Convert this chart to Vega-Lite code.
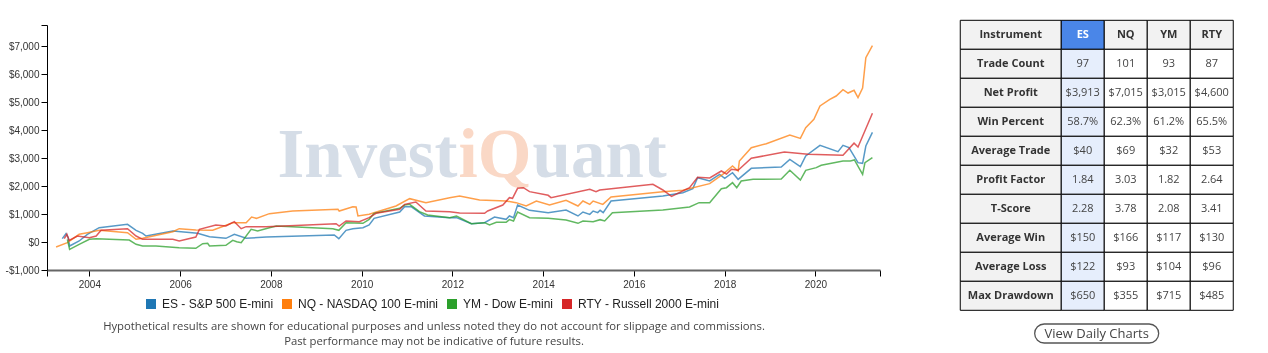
{
  "$schema": "https://vega.github.io/schema/vega-lite/v6.json",
  "background": "white",
  "padding": {"left": 5, "top": 19, "right": 0, "bottom": 0},
  "config": {"view": {"stroke": null}, "font": "Liberation Sans", "axis": {"labelOverlap": false}},
  "datasets": {
    "equity": [
      {"instrument":"ES - S&P 500 E-mini","date":"2003-05-28","profit":119},
      {"instrument":"ES - S&P 500 E-mini","date":"2003-06-27","profit":298},
      {"instrument":"ES - S&P 500 E-mini","date":"2003-07-15","profit":155},
      {"instrument":"ES - S&P 500 E-mini","date":"2003-07-26","profit":-143},
      {"instrument":"ES - S&P 500 E-mini","date":"2003-10-11","profit":36},
      {"instrument":"ES - S&P 500 E-mini","date":"2003-12-16","profit":274},
      {"instrument":"ES - S&P 500 E-mini","date":"2004-03-20","profit":512},
      {"instrument":"ES - S&P 500 E-mini","date":"2004-11-03","profit":631},
      {"instrument":"ES - S&P 500 E-mini","date":"2005-01-11","profit":417},
      {"instrument":"ES - S&P 500 E-mini","date":"2005-03-05","profit":310},
      {"instrument":"ES - S&P 500 E-mini","date":"2005-04-01","profit":214},
      {"instrument":"ES - S&P 500 E-mini","date":"2005-11-03","profit":393},
      {"instrument":"ES - S&P 500 E-mini","date":"2006-05-21","profit":310},
      {"instrument":"ES - S&P 500 E-mini","date":"2006-08-25","profit":190},
      {"instrument":"ES - S&P 500 E-mini","date":"2007-01-04","profit":131},
      {"instrument":"ES - S&P 500 E-mini","date":"2007-03-13","profit":274},
      {"instrument":"ES - S&P 500 E-mini","date":"2007-06-16","profit":131},
      {"instrument":"ES - S&P 500 E-mini","date":"2007-11-25","profit":179},
      {"instrument":"ES - S&P 500 E-mini","date":"2009-05-25","profit":250},
      {"instrument":"ES - S&P 500 E-mini","date":"2009-07-01","profit":119},
      {"instrument":"ES - S&P 500 E-mini","date":"2009-08-28","profit":417},
      {"instrument":"ES - S&P 500 E-mini","date":"2009-10-22","profit":476},
      {"instrument":"ES - S&P 500 E-mini","date":"2010-01-11","profit":512},
      {"instrument":"ES - S&P 500 E-mini","date":"2010-03-02","profit":607},
      {"instrument":"ES - S&P 500 E-mini","date":"2010-04-11","profit":845},
      {"instrument":"ES - S&P 500 E-mini","date":"2010-11-03","profit":1071},
      {"instrument":"ES - S&P 500 E-mini","date":"2010-12-13","profit":1262},
      {"instrument":"ES - S&P 500 E-mini","date":"2011-02-03","profit":1262},
      {"instrument":"ES - S&P 500 E-mini","date":"2011-05-21","profit":929},
      {"instrument":"ES - S&P 500 E-mini","date":"2011-12-10","profit":869},
      {"instrument":"ES - S&P 500 E-mini","date":"2012-02-03","profit":869},
      {"instrument":"ES - S&P 500 E-mini","date":"2012-06-02","profit":655},
      {"instrument":"ES - S&P 500 E-mini","date":"2012-09-16","profit":690},
      {"instrument":"ES - S&P 500 E-mini","date":"2012-12-05","profit":893},
      {"instrument":"ES - S&P 500 E-mini","date":"2013-03-09","profit":810},
      {"instrument":"ES - S&P 500 E-mini","date":"2013-04-04","profit":929},
      {"instrument":"ES - S&P 500 E-mini","date":"2013-05-07","profit":869},
      {"instrument":"ES - S&P 500 E-mini","date":"2013-06-09","profit":1321},
      {"instrument":"ES - S&P 500 E-mini","date":"2013-09-13","profit":1131},
      {"instrument":"ES - S&P 500 E-mini","date":"2014-02-10","profit":1048},
      {"instrument":"ES - S&P 500 E-mini","date":"2014-07-04","profit":1143},
      {"instrument":"ES - S&P 500 E-mini","date":"2014-10-08","profit":929},
      {"instrument":"ES - S&P 500 E-mini","date":"2014-11-17","profit":1071},
      {"instrument":"ES - S&P 500 E-mini","date":"2015-01-11","profit":988},
      {"instrument":"ES - S&P 500 E-mini","date":"2015-02-07","profit":1107},
      {"instrument":"ES - S&P 500 E-mini","date":"2015-03-16","profit":1048},
      {"instrument":"ES - S&P 500 E-mini","date":"2015-04-04","profit":1131},
      {"instrument":"ES - S&P 500 E-mini","date":"2015-04-29","profit":1048},
      {"instrument":"ES - S&P 500 E-mini","date":"2015-07-01","profit":1464},
      {"instrument":"ES - S&P 500 E-mini","date":"2016-08-21","profit":1643},
      {"instrument":"ES - S&P 500 E-mini","date":"2017-01-29","profit":1762},
      {"instrument":"ES - S&P 500 E-mini","date":"2017-04-19","profit":1905},
      {"instrument":"ES - S&P 500 E-mini","date":"2017-05-28","profit":2298},
      {"instrument":"ES - S&P 500 E-mini","date":"2017-09-02","profit":2179},
      {"instrument":"ES - S&P 500 E-mini","date":"2017-11-21","profit":2417},
      {"instrument":"ES - S&P 500 E-mini","date":"2018-01-01","profit":2274},
      {"instrument":"ES - S&P 500 E-mini","date":"2018-03-05","profit":2476},
      {"instrument":"ES - S&P 500 E-mini","date":"2018-04-19","profit":2238},
      {"instrument":"ES - S&P 500 E-mini","date":"2018-08-03","profit":2631},
      {"instrument":"ES - S&P 500 E-mini","date":"2019-04-01","profit":2679},
      {"instrument":"ES - S&P 500 E-mini","date":"2019-06-09","profit":2952},
      {"instrument":"ES - S&P 500 E-mini","date":"2019-09-02","profit":2690},
      {"instrument":"ES - S&P 500 E-mini","date":"2019-10-15","profit":3071},
      {"instrument":"ES - S&P 500 E-mini","date":"2020-02-07","profit":3452},
      {"instrument":"ES - S&P 500 E-mini","date":"2020-07-01","profit":3226},
      {"instrument":"ES - S&P 500 E-mini","date":"2020-08-10","profit":3452},
      {"instrument":"ES - S&P 500 E-mini","date":"2020-09-27","profit":3369},
      {"instrument":"ES - S&P 500 E-mini","date":"2020-12-09","profit":2833},
      {"instrument":"ES - S&P 500 E-mini","date":"2021-01-15","profit":2810},
      {"instrument":"ES - S&P 500 E-mini","date":"2021-02-10","profit":3429},
      {"instrument":"ES - S&P 500 E-mini","date":"2021-04-04","profit":3913},

      {"instrument":"NQ - NASDAQ 100 E-mini","date":"2003-04-08","profit":-178},
      {"instrument":"NQ - NASDAQ 100 E-mini","date":"2003-07-08","profit":-24},
      {"instrument":"NQ - NASDAQ 100 E-mini","date":"2003-10-11","profit":274},
      {"instrument":"NQ - NASDAQ 100 E-mini","date":"2003-12-16","profit":333},
      {"instrument":"NQ - NASDAQ 100 E-mini","date":"2004-03-20","profit":417},
      {"instrument":"NQ - NASDAQ 100 E-mini","date":"2004-11-03","profit":333},
      {"instrument":"NQ - NASDAQ 100 E-mini","date":"2005-01-11","profit":96},
      {"instrument":"NQ - NASDAQ 100 E-mini","date":"2005-03-05","profit":131},
      {"instrument":"NQ - NASDAQ 100 E-mini","date":"2005-11-03","profit":369},
      {"instrument":"NQ - NASDAQ 100 E-mini","date":"2005-12-24","profit":476},
      {"instrument":"NQ - NASDAQ 100 E-mini","date":"2006-05-07","profit":429},
      {"instrument":"NQ - NASDAQ 100 E-mini","date":"2006-09-20","profit":417},
      {"instrument":"NQ - NASDAQ 100 E-mini","date":"2007-02-28","profit":690},
      {"instrument":"NQ - NASDAQ 100 E-mini","date":"2007-06-16","profit":690},
      {"instrument":"NQ - NASDAQ 100 E-mini","date":"2007-07-30","profit":893},
      {"instrument":"NQ - NASDAQ 100 E-mini","date":"2007-09-06","profit":845},
      {"instrument":"NQ - NASDAQ 100 E-mini","date":"2007-12-20","profit":1012},
      {"instrument":"NQ - NASDAQ 100 E-mini","date":"2008-06-24","profit":1107},
      {"instrument":"NQ - NASDAQ 100 E-mini","date":"2009-06-24","profit":1167},
      {"instrument":"NQ - NASDAQ 100 E-mini","date":"2009-07-04","profit":1107},
      {"instrument":"NQ - NASDAQ 100 E-mini","date":"2009-10-22","profit":1262},
      {"instrument":"NQ - NASDAQ 100 E-mini","date":"2009-11-17","profit":1250},
      {"instrument":"NQ - NASDAQ 100 E-mini","date":"2009-12-02","profit":929},
      {"instrument":"NQ - NASDAQ 100 E-mini","date":"2010-03-02","profit":988},
      {"instrument":"NQ - NASDAQ 100 E-mini","date":"2010-10-04","profit":1286},
      {"instrument":"NQ - NASDAQ 100 E-mini","date":"2011-01-22","profit":1548},
      {"instrument":"NQ - NASDAQ 100 E-mini","date":"2011-06-02","profit":1405},
      {"instrument":"NQ - NASDAQ 100 E-mini","date":"2011-12-10","profit":1583},
      {"instrument":"NQ - NASDAQ 100 E-mini","date":"2012-02-28","profit":1643},
      {"instrument":"NQ - NASDAQ 100 E-mini","date":"2012-08-07","profit":1500},
      {"instrument":"NQ - NASDAQ 100 E-mini","date":"2013-03-09","profit":1464},
      {"instrument":"NQ - NASDAQ 100 E-mini","date":"2013-05-28","profit":1405},
      {"instrument":"NQ - NASDAQ 100 E-mini","date":"2013-08-17","profit":1286},
      {"instrument":"NQ - NASDAQ 100 E-mini","date":"2013-11-07","profit":1464},
      {"instrument":"NQ - NASDAQ 100 E-mini","date":"2014-02-21","profit":1321},
      {"instrument":"NQ - NASDAQ 100 E-mini","date":"2014-07-04","profit":1488},
      {"instrument":"NQ - NASDAQ 100 E-mini","date":"2014-10-08","profit":1286},
      {"instrument":"NQ - NASDAQ 100 E-mini","date":"2014-11-17","profit":1464},
      {"instrument":"NQ - NASDAQ 100 E-mini","date":"2015-01-11","profit":1345},
      {"instrument":"NQ - NASDAQ 100 E-mini","date":"2015-02-07","profit":1464},
      {"instrument":"NQ - NASDAQ 100 E-mini","date":"2015-04-26","profit":1345},
      {"instrument":"NQ - NASDAQ 100 E-mini","date":"2015-07-01","profit":1607},
      {"instrument":"NQ - NASDAQ 100 E-mini","date":"2016-08-21","profit":1798},
      {"instrument":"NQ - NASDAQ 100 E-mini","date":"2017-01-29","profit":1845},
      {"instrument":"NQ - NASDAQ 100 E-mini","date":"2017-09-02","profit":2083},
      {"instrument":"NQ - NASDAQ 100 E-mini","date":"2017-12-16","profit":2417},
      {"instrument":"NQ - NASDAQ 100 E-mini","date":"2018-03-05","profit":2714},
      {"instrument":"NQ - NASDAQ 100 E-mini","date":"2018-04-19","profit":2536},
      {"instrument":"NQ - NASDAQ 100 E-mini","date":"2018-04-29","profit":2893},
      {"instrument":"NQ - NASDAQ 100 E-mini","date":"2018-08-03","profit":3369},
      {"instrument":"NQ - NASDAQ 100 E-mini","date":"2018-12-02","profit":3512},
      {"instrument":"NQ - NASDAQ 100 E-mini","date":"2019-06-09","profit":3821},
      {"instrument":"NQ - NASDAQ 100 E-mini","date":"2019-09-02","profit":3702},
      {"instrument":"NQ - NASDAQ 100 E-mini","date":"2019-10-15","profit":4083},
      {"instrument":"NQ - NASDAQ 100 E-mini","date":"2019-12-20","profit":4380},
      {"instrument":"NQ - NASDAQ 100 E-mini","date":"2020-02-07","profit":4857},
      {"instrument":"NQ - NASDAQ 100 E-mini","date":"2020-04-26","profit":5095},
      {"instrument":"NQ - NASDAQ 100 E-mini","date":"2020-06-16","profit":5214},
      {"instrument":"NQ - NASDAQ 100 E-mini","date":"2020-08-10","profit":5440},
      {"instrument":"NQ - NASDAQ 100 E-mini","date":"2020-09-20","profit":5320},
      {"instrument":"NQ - NASDAQ 100 E-mini","date":"2020-11-07","profit":5417},
      {"instrument":"NQ - NASDAQ 100 E-mini","date":"2020-12-09","profit":5155},
      {"instrument":"NQ - NASDAQ 100 E-mini","date":"2021-01-15","profit":5500},
      {"instrument":"NQ - NASDAQ 100 E-mini","date":"2021-02-10","profit":6583},
      {"instrument":"NQ - NASDAQ 100 E-mini","date":"2021-04-04","profit":7015},

      {"instrument":"YM - Dow E-mini","date":"2003-07-08","profit":96},
      {"instrument":"YM - Dow E-mini","date":"2003-07-26","profit":-262},
      {"instrument":"YM - Dow E-mini","date":"2003-10-11","profit":-83},
      {"instrument":"YM - Dow E-mini","date":"2004-01-01","profit":96},
      {"instrument":"YM - Dow E-mini","date":"2004-02-25","profit":119},
      {"instrument":"YM - Dow E-mini","date":"2004-11-17","profit":71},
      {"instrument":"YM - Dow E-mini","date":"2005-01-11","profit":-83},
      {"instrument":"YM - Dow E-mini","date":"2005-03-05","profit":-143},
      {"instrument":"YM - Dow E-mini","date":"2005-06-20","profit":-143},
      {"instrument":"YM - Dow E-mini","date":"2005-12-24","profit":-202},
      {"instrument":"YM - Dow E-mini","date":"2006-05-07","profit":-226},
      {"instrument":"YM - Dow E-mini","date":"2006-07-01","profit":-60},
      {"instrument":"YM - Dow E-mini","date":"2006-08-10","profit":-48},
      {"instrument":"YM - Dow E-mini","date":"2006-08-25","profit":-143},
      {"instrument":"YM - Dow E-mini","date":"2007-01-04","profit":-119},
      {"instrument":"YM - Dow E-mini","date":"2007-02-28","profit":60},
      {"instrument":"YM - Dow E-mini","date":"2007-04-01","profit":12},
      {"instrument":"YM - Dow E-mini","date":"2007-05-07","profit":-24},
      {"instrument":"YM - Dow E-mini","date":"2007-07-26","profit":452},
      {"instrument":"YM - Dow E-mini","date":"2007-09-16","profit":393},
      {"instrument":"YM - Dow E-mini","date":"2007-12-20","profit":512},
      {"instrument":"YM - Dow E-mini","date":"2008-02-14","profit":571},
      {"instrument":"YM - Dow E-mini","date":"2009-05-14","profit":476},
      {"instrument":"YM - Dow E-mini","date":"2009-07-01","profit":417},
      {"instrument":"YM - Dow E-mini","date":"2009-08-28","profit":690},
      {"instrument":"YM - Dow E-mini","date":"2010-01-11","profit":667},
      {"instrument":"YM - Dow E-mini","date":"2010-03-02","profit":810},
      {"instrument":"YM - Dow E-mini","date":"2010-04-11","profit":1024},
      {"instrument":"YM - Dow E-mini","date":"2010-11-03","profit":1202},
      {"instrument":"YM - Dow E-mini","date":"2010-12-13","profit":1321},
      {"instrument":"YM - Dow E-mini","date":"2011-01-22","profit":1345},
      {"instrument":"YM - Dow E-mini","date":"2011-04-11","profit":1083},
      {"instrument":"YM - Dow E-mini","date":"2011-06-16","profit":964},
      {"instrument":"YM - Dow E-mini","date":"2011-12-10","profit":869},
      {"instrument":"YM - Dow E-mini","date":"2012-02-03","profit":929},
      {"instrument":"YM - Dow E-mini","date":"2012-06-02","profit":655},
      {"instrument":"YM - Dow E-mini","date":"2012-09-16","profit":690},
      {"instrument":"YM - Dow E-mini","date":"2012-10-26","profit":607},
      {"instrument":"YM - Dow E-mini","date":"2012-12-20","profit":702},
      {"instrument":"YM - Dow E-mini","date":"2013-03-09","profit":702},
      {"instrument":"YM - Dow E-mini","date":"2013-04-04","profit":798},
      {"instrument":"YM - Dow E-mini","date":"2013-05-07","profit":750},
      {"instrument":"YM - Dow E-mini","date":"2013-06-09","profit":1071},
      {"instrument":"YM - Dow E-mini","date":"2013-09-13","profit":869},
      {"instrument":"YM - Dow E-mini","date":"2014-02-10","profit":845},
      {"instrument":"YM - Dow E-mini","date":"2014-07-04","profit":786},
      {"instrument":"YM - Dow E-mini","date":"2014-10-08","profit":667},
      {"instrument":"YM - Dow E-mini","date":"2014-11-17","profit":750},
      {"instrument":"YM - Dow E-mini","date":"2015-02-07","profit":726},
      {"instrument":"YM - Dow E-mini","date":"2015-04-04","profit":798},
      {"instrument":"YM - Dow E-mini","date":"2015-05-11","profit":750},
      {"instrument":"YM - Dow E-mini","date":"2015-07-12","profit":1048},
      {"instrument":"YM - Dow E-mini","date":"2016-08-21","profit":1143},
      {"instrument":"YM - Dow E-mini","date":"2017-03-24","profit":1250},
      {"instrument":"YM - Dow E-mini","date":"2017-06-09","profit":1405},
      {"instrument":"YM - Dow E-mini","date":"2017-09-02","profit":1405},
      {"instrument":"YM - Dow E-mini","date":"2017-12-05","profit":1905},
      {"instrument":"YM - Dow E-mini","date":"2018-01-15","profit":1940},
      {"instrument":"YM - Dow E-mini","date":"2018-03-05","profit":2119},
      {"instrument":"YM - Dow E-mini","date":"2018-04-08","profit":1940},
      {"instrument":"YM - Dow E-mini","date":"2018-05-14","profit":2179},
      {"instrument":"YM - Dow E-mini","date":"2018-08-17","profit":2238},
      {"instrument":"YM - Dow E-mini","date":"2019-04-01","profit":2250},
      {"instrument":"YM - Dow E-mini","date":"2019-06-09","profit":2560},
      {"instrument":"YM - Dow E-mini","date":"2019-09-02","profit":2214},
      {"instrument":"YM - Dow E-mini","date":"2019-10-15","profit":2560},
      {"instrument":"YM - Dow E-mini","date":"2020-01-08","profit":2655},
      {"instrument":"YM - Dow E-mini","date":"2020-02-17","profit":2738},
      {"instrument":"YM - Dow E-mini","date":"2020-08-10","profit":2893},
      {"instrument":"YM - Dow E-mini","date":"2020-10-08","profit":2893},
      {"instrument":"YM - Dow E-mini","date":"2020-11-10","profit":2929},
      {"instrument":"YM - Dow E-mini","date":"2021-01-15","profit":2417},
      {"instrument":"YM - Dow E-mini","date":"2021-02-03","profit":2833},
      {"instrument":"YM - Dow E-mini","date":"2021-04-04","profit":3015},

      {"instrument":"RTY - Russell 2000 E-mini","date":"2003-06-13","profit":119},
      {"instrument":"RTY - Russell 2000 E-mini","date":"2003-07-04","profit":274},
      {"instrument":"RTY - Russell 2000 E-mini","date":"2003-07-22","profit":60},
      {"instrument":"RTY - Russell 2000 E-mini","date":"2003-09-27","profit":214},
      {"instrument":"RTY - Russell 2000 E-mini","date":"2004-01-01","profit":155},
      {"instrument":"RTY - Russell 2000 E-mini","date":"2004-02-25","profit":214},
      {"instrument":"RTY - Russell 2000 E-mini","date":"2004-04-04","profit":417},
      {"instrument":"RTY - Russell 2000 E-mini","date":"2004-11-03","profit":476},
      {"instrument":"RTY - Russell 2000 E-mini","date":"2005-01-11","profit":214},
      {"instrument":"RTY - Russell 2000 E-mini","date":"2005-03-05","profit":96},
      {"instrument":"RTY - Russell 2000 E-mini","date":"2005-11-03","profit":96},
      {"instrument":"RTY - Russell 2000 E-mini","date":"2005-12-24","profit":36},
      {"instrument":"RTY - Russell 2000 E-mini","date":"2006-05-07","profit":179},
      {"instrument":"RTY - Russell 2000 E-mini","date":"2006-06-05","profit":452},
      {"instrument":"RTY - Russell 2000 E-mini","date":"2006-10-15","profit":607},
      {"instrument":"RTY - Russell 2000 E-mini","date":"2007-01-04","profit":571},
      {"instrument":"RTY - Russell 2000 E-mini","date":"2007-03-13","profit":726},
      {"instrument":"RTY - Russell 2000 E-mini","date":"2007-05-07","profit":476},
      {"instrument":"RTY - Russell 2000 E-mini","date":"2007-06-16","profit":548},
      {"instrument":"RTY - Russell 2000 E-mini","date":"2007-11-25","profit":548},
      {"instrument":"RTY - Russell 2000 E-mini","date":"2009-06-09","profit":655},
      {"instrument":"RTY - Russell 2000 E-mini","date":"2009-07-04","profit":571},
      {"instrument":"RTY - Russell 2000 E-mini","date":"2009-08-28","profit":750},
      {"instrument":"RTY - Russell 2000 E-mini","date":"2009-12-13","profit":726},
      {"instrument":"RTY - Russell 2000 E-mini","date":"2010-03-02","profit":869},
      {"instrument":"RTY - Russell 2000 E-mini","date":"2010-04-26","profit":1024},
      {"instrument":"RTY - Russell 2000 E-mini","date":"2010-11-03","profit":1167},
      {"instrument":"RTY - Russell 2000 E-mini","date":"2010-12-13","profit":1345},
      {"instrument":"RTY - Russell 2000 E-mini","date":"2011-03-13","profit":1429},
      {"instrument":"RTY - Russell 2000 E-mini","date":"2011-06-02","profit":1107},
      {"instrument":"RTY - Russell 2000 E-mini","date":"2011-12-10","profit":1083},
      {"instrument":"RTY - Russell 2000 E-mini","date":"2012-02-28","profit":1036},
      {"instrument":"RTY - Russell 2000 E-mini","date":"2012-09-16","profit":1024},
      {"instrument":"RTY - Russell 2000 E-mini","date":"2012-10-11","profit":1107},
      {"instrument":"RTY - Russell 2000 E-mini","date":"2013-02-10","profit":1321},
      {"instrument":"RTY - Russell 2000 E-mini","date":"2013-04-04","profit":1583},
      {"instrument":"RTY - Russell 2000 E-mini","date":"2013-04-29","profit":1560},
      {"instrument":"RTY - Russell 2000 E-mini","date":"2013-06-09","profit":1917},
      {"instrument":"RTY - Russell 2000 E-mini","date":"2013-07-26","profit":1940},
      {"instrument":"RTY - Russell 2000 E-mini","date":"2013-09-13","profit":1798},
      {"instrument":"RTY - Russell 2000 E-mini","date":"2014-02-10","profit":1667},
      {"instrument":"RTY - Russell 2000 E-mini","date":"2014-03-05","profit":1583},
      {"instrument":"RTY - Russell 2000 E-mini","date":"2015-01-11","profit":1881},
      {"instrument":"RTY - Russell 2000 E-mini","date":"2015-03-02","profit":1798},
      {"instrument":"RTY - Russell 2000 E-mini","date":"2015-04-01","profit":1857},
      {"instrument":"RTY - Russell 2000 E-mini","date":"2016-06-02","profit":2060},
      {"instrument":"RTY - Russell 2000 E-mini","date":"2016-08-21","profit":1857},
      {"instrument":"RTY - Russell 2000 E-mini","date":"2016-10-30","profit":1630},
      {"instrument":"RTY - Russell 2000 E-mini","date":"2017-03-24","profit":1940},
      {"instrument":"RTY - Russell 2000 E-mini","date":"2017-05-28","profit":2310},
      {"instrument":"RTY - Russell 2000 E-mini","date":"2017-09-02","profit":2290},
      {"instrument":"RTY - Russell 2000 E-mini","date":"2017-12-05","profit":2536},
      {"instrument":"RTY - Russell 2000 E-mini","date":"2018-01-15","profit":2430},
      {"instrument":"RTY - Russell 2000 E-mini","date":"2018-02-25","profit":2600},
      {"instrument":"RTY - Russell 2000 E-mini","date":"2018-04-19","profit":2560},
      {"instrument":"RTY - Russell 2000 E-mini","date":"2018-08-03","profit":2990},
      {"instrument":"RTY - Russell 2000 E-mini","date":"2019-04-26","profit":3214},
      {"instrument":"RTY - Russell 2000 E-mini","date":"2019-11-03","profit":3131},
      {"instrument":"RTY - Russell 2000 E-mini","date":"2020-08-10","profit":3100},
      {"instrument":"RTY - Russell 2000 E-mini","date":"2020-11-07","profit":3530},
      {"instrument":"RTY - Russell 2000 E-mini","date":"2020-12-09","profit":3393},
      {"instrument":"RTY - Russell 2000 E-mini","date":"2021-04-04","profit":4600}
    ],
    "rows": [
      {"metric": "Instrument"}, {"metric": "Trade Count"}, {"metric": "Net Profit"}, {"metric": "Win Percent"},
      {"metric": "Average Trade"}, {"metric": "Profit Factor"}, {"metric": "T-Score"}, {"metric": "Average Win"},
      {"metric": "Average Loss"}, {"metric": "Max Drawdown"}
    ],
    "cells": [
      {"metric": "Instrument", "col": "ES", "value": "ES"},
      {"metric": "Instrument", "col": "NQ", "value": "NQ"},
      {"metric": "Instrument", "col": "YM", "value": "YM"},
      {"metric": "Instrument", "col": "RTY", "value": "RTY"},
      {"metric": "Trade Count", "col": "ES", "value": "97"},
      {"metric": "Trade Count", "col": "NQ", "value": "101"},
      {"metric": "Trade Count", "col": "YM", "value": "93"},
      {"metric": "Trade Count", "col": "RTY", "value": "87"},
      {"metric": "Net Profit", "col": "ES", "value": "$3,913"},
      {"metric": "Net Profit", "col": "NQ", "value": "$7,015"},
      {"metric": "Net Profit", "col": "YM", "value": "$3,015"},
      {"metric": "Net Profit", "col": "RTY", "value": "$4,600"},
      {"metric": "Win Percent", "col": "ES", "value": "58.7%"},
      {"metric": "Win Percent", "col": "NQ", "value": "62.3%"},
      {"metric": "Win Percent", "col": "YM", "value": "61.2%"},
      {"metric": "Win Percent", "col": "RTY", "value": "65.5%"},
      {"metric": "Average Trade", "col": "ES", "value": "$40"},
      {"metric": "Average Trade", "col": "NQ", "value": "$69"},
      {"metric": "Average Trade", "col": "YM", "value": "$32"},
      {"metric": "Average Trade", "col": "RTY", "value": "$53"},
      {"metric": "Profit Factor", "col": "ES", "value": "1.84"},
      {"metric": "Profit Factor", "col": "NQ", "value": "3.03"},
      {"metric": "Profit Factor", "col": "YM", "value": "1.82"},
      {"metric": "Profit Factor", "col": "RTY", "value": "2.64"},
      {"metric": "T-Score", "col": "ES", "value": "2.28"},
      {"metric": "T-Score", "col": "NQ", "value": "3.78"},
      {"metric": "T-Score", "col": "YM", "value": "2.08"},
      {"metric": "T-Score", "col": "RTY", "value": "3.41"},
      {"metric": "Average Win", "col": "ES", "value": "$150"},
      {"metric": "Average Win", "col": "NQ", "value": "$166"},
      {"metric": "Average Win", "col": "YM", "value": "$117"},
      {"metric": "Average Win", "col": "RTY", "value": "$130"},
      {"metric": "Average Loss", "col": "ES", "value": "$122"},
      {"metric": "Average Loss", "col": "NQ", "value": "$93"},
      {"metric": "Average Loss", "col": "YM", "value": "$104"},
      {"metric": "Average Loss", "col": "RTY", "value": "$96"},
      {"metric": "Max Drawdown", "col": "ES", "value": "$650"},
      {"metric": "Max Drawdown", "col": "NQ", "value": "$355"},
      {"metric": "Max Drawdown", "col": "YM", "value": "$715"},
      {"metric": "Max Drawdown", "col": "RTY", "value": "$485"}
    ],
    "note": [
      {"line": "Hypothetical results are shown for educational purposes and unless noted they do not account for slippage and commissions."},
      {"line": "Past performance may not be indicative of future results."}
    ],
    "button": [{"label": "View Daily Charts"}]
  },
  "resolve": {"scale": {"color": "independent"}, "legend": {"color": "independent"}},
  "spacing": 78,
  "hconcat": [
    {
      "resolve": {"scale": {"color": "independent"}, "legend": {"color": "independent"}},
      "spacing": 1,
      "vconcat": [
        {
          "width": 833,
          "height": 245,
          "layer": [
            {
              "data": {"name": "equity"},
              "mark": {"type": "line", "strokeWidth": 1.5, "opacity": 0.75},
              "encoding": {
                "x": {
                  "field": "date", "type": "temporal",
                  "scale": {"domain": [{"year": 2003, "month": 1, "date": 25}, {"year": 2021, "month": 6, "date": 4}]},
                  "axis": {
                    "title": null, "grid": false, "tickCount": 30,
                    "values": [{"year": 2003, "month": 1, "date": 25}, {"year": 2004, "month": 1, "date": 1}, {"year": 2006, "month": 1, "date": 1}, {"year": 2008, "month": 1, "date": 1}, {"year": 2010, "month": 1, "date": 1}, {"year": 2012, "month": 1, "date": 1}, {"year": 2014, "month": 1, "date": 1}, {"year": 2016, "month": 1, "date": 1}, {"year": 2018, "month": 1, "date": 1}, {"year": 2020, "month": 1, "date": 1}, {"year": 2021, "month": 6, "date": 4}],
                    "labelExpr": "timeFormat(datum.value, '%m%d') === '0101' ? timeFormat(datum.value, '%Y') : ''",
                    "labelOverlap": false, "labelFlush": false,
                    "domainColor": "#666", "domainWidth": 2,
                    "tickColor": "#000", "tickSize": 6, "labelPadding": 3,
                    "labelFont": "Liberation Sans", "labelFontSize": 10, "labelColor": "#333"
                  }
                },
                "y": {
                  "field": "profit", "type": "quantitative",
                  "scale": {"domain": [-1000, 7750], "nice": false, "zero": false},
                  "axis": {
                    "title": null, "grid": false, "tickCount": 20,
                    "values": [-1000, 0, 1000, 2000, 3000, 4000, 5000, 6000, 7000, 7750],
                    "labelExpr": "datum.value > 7000 ? '' : (datum.value < 0 ? '-$' + format(-datum.value, ',') : '$' + format(datum.value, ','))",
                    "labelOverlap": false, "labelFlush": false,
                    "domainColor": "#000", "tickColor": "#000", "tickSize": 6, "labelPadding": 2,
                    "labelFont": "Liberation Sans", "labelFontSize": 10, "labelColor": "#333"
                  }
                },
                "color": {
                  "field": "instrument", "type": "nominal",
                  "scale": {
                    "domain": ["ES - S&P 500 E-mini", "NQ - NASDAQ 100 E-mini", "YM - Dow E-mini", "RTY - Russell 2000 E-mini"],
                    "range": ["#1f77b4", "#ff7f0e", "#2ca02c", "#d62728"]
                  },
                  "legend": {
                    "orient": "none", "legendX": 98, "legendY": 273, "direction": "horizontal", "title": null,
                    "symbolType": "square", "symbolSize": 16, "symbolStrokeWidth": 6, "symbolOpacity": 1,
                    "labelFont": "Liberation Sans", "labelFontSize": 12, "labelColor": "#222",
                    "labelOffset": 5, "columnPadding": -1, "labelLimit": 300, "padding": 0
                  }
                }
              }
            },
            {
              "data": {"values": [{"word": "Invest"}]},
              "mark": {"type": "text", "font": "Liberation Serif", "fontWeight": "bold", "fontSize": 69, "color": "#d5dde7", "align": "right", "baseline": "alphabetic", "blend": "multiply"},
              "encoding": {
                "x": {"datum": {"year": 2012, "month": 2, "date": 12}, "type": "temporal"},
                "y": {"datum": 2304, "type": "quantitative"},
                "text": {"field": "word"}
              }
            },
            {
              "data": {"values": [{"word": "iQ"}]},
              "mark": {"type": "text", "font": "Liberation Serif", "fontWeight": "bold", "fontSize": 69, "color": "#fad8c6", "align": "center", "baseline": "alphabetic", "blend": "multiply"},
              "encoding": {
                "x": {"datum": {"year": 2012, "month": 12, "date": 9}, "type": "temporal"},
                "y": {"datum": 2304, "type": "quantitative"},
                "text": {"field": "word"}
              }
            },
            {
              "data": {"values": [{"word": "uant"}]},
              "mark": {"type": "text", "font": "Liberation Serif", "fontWeight": "bold", "fontSize": 69, "color": "#d5dde7", "align": "left", "baseline": "alphabetic", "blend": "multiply"},
              "encoding": {
                "x": {"datum": {"year": 2013, "month": 10, "date": 7}, "type": "temporal"},
                "y": {"datum": 2304, "type": "quantitative"},
                "text": {"field": "word"}
              }
            }
          ]
        },
        {
          "width": 774,
          "height": 31,
          "data": {"name": "note"},
          "mark": {"type": "text", "font": "Open Sans", "fontSize": 11.3, "color": "#444"},
          "encoding": {
            "y": {"field": "line", "type": "nominal", "sort": null, "axis": null},
            "text": {"field": "line"}
          }
        }
      ]
    },
    {
      "spacing": 8,
      "center": true,
      "vconcat": [
        {
          "spacing": 0,
          "bounds": "flush",
          "hconcat": [
            {
              "width": 101,
              "height": 290,
              "data": {"name": "rows"},
              "encoding": {
                "y": {"field": "metric", "type": "nominal", "sort": null, "axis": null, "scale": {"paddingInner": 0, "paddingOuter": 0, "range": [-4.7, 285.3]}}
              },
              "layer": [
                {"mark": {"type": "rect", "fill": "#f2f2f2", "stroke": "#000", "strokeWidth": 1}},
                {"mark": {"type": "text", "font": "Open Sans", "fontWeight": "bold", "fontSize": 11, "color": "#333"}, "encoding": {"text": {"field": "metric"}}}
              ]
            },
            {
              "width": 172,
              "height": 290,
              "data": {"name": "cells"},
              "encoding": {
                "x": {"field": "col", "type": "nominal", "sort": ["ES", "NQ", "YM", "RTY"], "axis": null, "scale": {"paddingInner": 0, "paddingOuter": 0}},
                "y": {"field": "metric", "type": "nominal", "sort": ["Instrument", "Trade Count", "Net Profit", "Win Percent", "Average Trade", "Profit Factor", "T-Score", "Average Win", "Average Loss", "Max Drawdown"], "axis": null, "scale": {"paddingInner": 0, "paddingOuter": 0, "range": [-4.7, 285.3]}}
              },
              "layer": [
                {
                  "mark": {"type": "rect", "stroke": "#000", "strokeWidth": 1},
                  "encoding": {
                    "fill": {
                      "condition": [
                        {"test": "datum.metric === 'Instrument' && datum.col === 'ES'", "value": "#4a86e8"},
                        {"test": "datum.metric === 'Instrument'", "value": "#f2f2f2"},
                        {"test": "datum.col === 'ES'", "value": "#e6eefc"}
                      ],
                      "value": "#ffffff"
                    }
                  }
                },
                {
                  "transform": [{"filter": "datum.metric === 'Instrument'"}],
                  "mark": {"type": "text", "font": "Open Sans", "fontWeight": "bold", "fontSize": 11},
                  "encoding": {
                    "text": {"field": "value"},
                    "color": {"condition": {"test": "datum.col === 'ES'", "value": "#ffffff"}, "value": "#333"}
                  }
                },
                {
                  "transform": [{"filter": "datum.metric !== 'Instrument'"}],
                  "mark": {"type": "text", "font": "Open Sans", "fontSize": 11, "color": "#444"},
                  "encoding": {"text": {"field": "value"}}
                }
              ]
            }
          ]
        },
        {
          "width": 124,
          "height": 19,
          "data": {"name": "button"},
          "layer": [
            {"mark": {"type": "rect", "cornerRadius": 9.5, "fill": "white", "stroke": "#555", "strokeWidth": 1.3}},
            {"mark": {"type": "text", "font": "Open Sans", "fontSize": 13, "color": "#444"}, "encoding": {"text": {"field": "label"}}}
          ]
        }
      ]
    }
  ]
}
